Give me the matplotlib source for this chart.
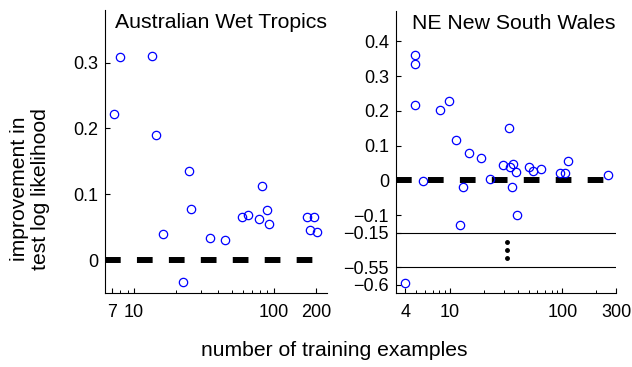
import numpy as np
import matplotlib
matplotlib.use("Agg")
import matplotlib.pyplot as plt
from matplotlib.ticker import FixedLocator, LogLocator, NullFormatter

plt.rcParams['font.family'] = ['Liberation Sans', 'DejaVu Sans']

# ---- data ----
wet_x = [7.2, 8.0, 13.5, 14.4, 16.1, 22.5, 24.7, 25.7, 35.1, 44.5,
         58.9, 65.5, 78.9, 82.9, 89.7, 91.6, 172.6, 192.8, 182.5, 202.6]
wet_y = [0.222, 0.309, 0.310, 0.190, 0.040, -0.034, 0.136, 0.077, 0.034, 0.030,
         0.066, 0.068, 0.062, 0.113, 0.076, 0.055, 0.066, 0.065, 0.045, 0.042]

nsw_x = [4.0, 4.92, 4.92, 4.92, 5.7, 8.1, 9.7, 11.4, 12.2, 13.0,
         14.6, 18.8, 22.7, 29.6, 33.3, 34.0, 36.0, 35.7, 39.0, 39.8,
         50.5, 54.8, 64.2, 94.8, 104.4, 111.7, 253.5]
nsw_y = [-0.594, 0.361, 0.335, 0.217, -0.003, 0.203, 0.228, 0.116, -0.129, -0.020,
         0.079, 0.064, 0.004, 0.043, 0.152, 0.040, 0.048, -0.019, 0.023, -0.099,
         0.039, 0.028, 0.034, 0.022, 0.021, 0.055, 0.016]

wet_xticks = [7, 10, 100, 200]
nsw_xticks = [4, 10, 100, 300]
wet_yticks = [0, 0.1, 0.2, 0.3]
wet_yticklabels = ['0', '0.1', '0.2', '0.3']
nsw_yticks = [0.4, 0.3, 0.2, 0.1, 0, -0.1, -0.15, -0.55, -0.6]
nsw_yticklabels = ['0.4', '0.3', '0.2', '0.1', '0', '\u22120.1', '\u22120.15', '\u22120.55', '\u22120.6']
break_lo, break_hi = -0.55, -0.15
dots_y = [-0.26, -0.35, -0.44]
dots_x = 32

titles = ['Australian Wet Tropics', 'NE New South Wales']

# ---- broken-axis scale ----
def fwd(y):
    y = np.asarray(y, dtype=float)
    return np.where(y >= break_hi, y,
                    np.where(y >= break_lo, break_hi + (y - break_hi) * 0.25,
                             y + 0.3))

def inv(t):
    t = np.asarray(t, dtype=float)
    return np.where(t >= break_hi, t,
                    np.where(t >= -0.25, break_hi + (t - break_hi) / 0.25,
                             t - 0.3))

W, H = 632, 367
fig = plt.figure(figsize=(W / 100, H / 100), dpi=100)

def px_axes(x0, x1, ytop, ybot):
    return fig.add_axes([x0 / W, 1 - ybot / H, (x1 - x0) / W, (ybot - ytop) / H])

ax1 = px_axes(105, 327, 10, 293)
ax2 = px_axes(396, 616, 11, 293)

blue = (0, 0, 1)
tick_fs = 13
title_fs = 15.3
label_fs = 15.2
lw_dash = 4.3

for ax in (ax1, ax2):
    ax.set_xscale('log')
    for s in ('top', 'right'):
        ax.spines[s].set_visible(False)
    for s in ('left', 'bottom'):
        ax.spines[s].set_linewidth(0.8)
    ax.tick_params(axis='both', which='major', direction='in', length=3.5, width=0.8,
                   labelsize=tick_fs, pad=5)
    ax.tick_params(axis='x', which='major', pad=8)
    ax.tick_params(axis='x', which='minor', direction='in', length=2, width=0.7)
    ax.xaxis.set_minor_locator(LogLocator(base=10, subs=np.arange(2, 10)))
    ax.xaxis.set_minor_formatter(NullFormatter())
    ax.set_facecolor('white')

# Left panel
ax1.plot(wet_x, wet_y, 'o', mfc='none', mec=blue, ms=6, mew=0.9, zorder=3)
ax1.axhline(0, color='black', lw=lw_dash, ls=(0, (11.3 / lw_dash, 11.7 / lw_dash)),
            solid_capstyle='butt', dash_capstyle='butt', zorder=2)
ax1.set_xlim(6.2, 240)
ax1.set_ylim(-0.05, 0.38)
ax1.set_xticks(wet_xticks)
ax1.set_xticklabels([str(v) for v in wet_xticks])
ax1.set_yticks(wet_yticks)
ax1.set_yticklabels(wet_yticklabels)
ax1.text(1.0, 0.955, titles[0], transform=ax1.transAxes, ha='right', va='center', fontsize=title_fs)

# Right panel
ax2.set_yscale('function', functions=(fwd, inv))
ax2.plot(nsw_x, nsw_y, 'o', mfc='none', mec=blue, ms=6, mew=0.9, zorder=3)
ax2.axhline(0, color='black', lw=lw_dash, ls=(0, (11.3 / lw_dash, 11.7 / lw_dash)),
            solid_capstyle='butt', dash_capstyle='butt', zorder=2)
ax2.axhline(break_hi, color='black', lw=0.8)
ax2.axhline(break_lo, color='black', lw=0.8)
ax2.plot([dots_x] * len(dots_y), dots_y, 'o', color='black', ms=2.5, zorder=3)
ax2.set_xlim(3.3, 300)
ax2.set_ylim(-0.6236, 0.487)
ax2.set_xticks(nsw_xticks)
ax2.set_xticklabels([str(v) for v in nsw_xticks])
ax2.yaxis.set_major_locator(FixedLocator(nsw_yticks))
ax2.set_yticks(nsw_yticks)
ax2.set_yticklabels(nsw_yticklabels)
ax2.yaxis.set_minor_locator(FixedLocator([]))
ax2.text(1.0, 0.955, titles[1], transform=ax2.transAxes, ha='right', va='center', fontsize=title_fs)

fig.text(30 / W, 1 - 189 / H, 'improvement in\ntest log likelihood', rotation=90,
         ha='center', va='center', fontsize=label_fs, linespacing=1.15)
fig.text(334 / W, 1 - 350 / H, 'number of training examples', ha='center', va='center',
         fontsize=label_fs)

fig.savefig('out.png', dpi=100, facecolor='white')
